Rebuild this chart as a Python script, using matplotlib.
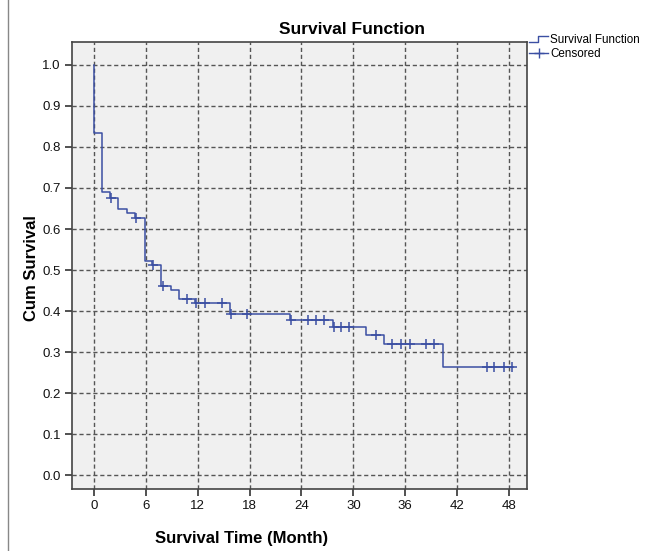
import numpy as np
import matplotlib
matplotlib.use("Agg")
import matplotlib.pyplot as plt
from matplotlib.lines import Line2D
from matplotlib.legend_handler import HandlerBase

plt.rcParams['font.family'] = ['Liberation Sans', 'DejaVu Sans']

# step times (months) and cumulative survival right after each step
step_time = [0.0, 0.05, 0.95, 1.85, 2.8, 3.8, 4.75, 5.85, 6.7, 7.8, 8.9, 9.8,
             11.7, 15.7, 22.7, 27.6, 31.5, 33.6, 40.4]
step_surv = [1.0, 0.835, 0.690, 0.675, 0.648, 0.638, 0.628, 0.522, 0.512, 0.461,
             0.451, 0.429, 0.420, 0.393, 0.378, 0.360, 0.341, 0.319, 0.264]
end_time = 48.5

# censored observations
cens_time = [2.0, 4.9, 6.85, 8.0, 10.8, 11.8, 12.8, 14.8, 15.8, 17.7, 22.8, 24.7,
             25.7, 26.6, 27.8, 28.6, 29.5, 32.6, 34.5, 35.5, 36.5, 38.4, 39.3,
             45.4, 46.3, 47.4, 48.4]
cens_surv = [0.675, 0.628, 0.512, 0.461, 0.429, 0.420, 0.420, 0.420, 0.393, 0.393,
             0.378, 0.378, 0.378, 0.378, 0.360, 0.360, 0.360, 0.341, 0.319, 0.319,
             0.319, 0.319, 0.319, 0.264, 0.264, 0.264, 0.264]

x_ticks = [0, 6, 12, 18, 24, 30, 36, 42, 48]
y_ticks = [0.0, 0.1, 0.2, 0.3, 0.4, 0.5, 0.6, 0.7, 0.8, 0.9, 1.0]

LINE_C = '#3b4fa3'
GRID_C = '#555555'


class StepHandler(HandlerBase):
    """legend icon shaped like a small step"""
    def create_artists(self, legend, orig, xd, yd, w, h, fontsize, trans):
        xs = [xd, xd + w * 0.45, xd + w * 0.45, xd + w]
        ys = [yd + h * 0.1, yd + h * 0.1, yd + h * 0.85, yd + h * 0.85]
        ln = Line2D(xs, ys, color=LINE_C, lw=1.0, transform=trans)
        return [ln]


fig = plt.figure(figsize=(6.45, 5.51), dpi=100)
ax = fig.add_axes([72 / 645, 1 - 489 / 551, 455 / 645, 447 / 551])
ax.set_facecolor('#f0f0f0')

xs = list(step_time) + [end_time]
ys = list(step_surv) + [step_surv[-1]]
ax.step(xs, ys, where='post', color=LINE_C, lw=1.1, zorder=3)
ax.plot(cens_time, cens_surv, ls='none', marker='+', ms=7.5, mew=1.1,
        color=LINE_C, zorder=4)

ax.set_xlim(-2.54, 50.08)
ax.set_ylim(-0.034, 1.056)
ax.set_xticks(x_ticks)
ax.set_yticks(y_ticks)
ax.set_yticklabels([f'{v:.1f}' for v in y_ticks])
ax.tick_params(direction='out', length=5, width=1.2, color='#333333',
               labelsize=9.5, pad=3, labelcolor='#111111')

ax.grid(True, color=GRID_C, ls=(0, (3, 2)), lw=1.0)
ax.set_axisbelow(True)
for sp in ax.spines.values():
    sp.set_color('#444444')
    sp.set_linewidth(1.2)

fig.text(352 / 645, 1 - 30 / 551, 'Survival Function', ha='center', va='center',
         fontsize=12.5, fontweight='bold')
fig.text(242 / 645, 1 - 538 / 551, 'Survival Time (Month)', ha='center', va='center',
         fontsize=12, fontweight='bold')
fig.text(32 / 645, 1 - 268 / 551, 'Cum Survival', ha='center', va='center',
         rotation=90, fontsize=12, fontweight='bold')

h1 = Line2D([], [], color=LINE_C)
h2 = Line2D([], [], color=LINE_C, marker='+', ms=7, ls='-', lw=1.0)
fig.legend([h1, h2], ['Survival Function', 'Censored'],
           handler_map={h1: StepHandler()},
           loc='upper left', bbox_to_anchor=(528 / 645, 1 - 33 / 551),
           frameon=False, fontsize=8.4, handlelength=1.6, handletextpad=0.2,
           labelspacing=0.15, borderaxespad=0, borderpad=0.1)

# thin frame along the left side of the image
fig.add_artist(Line2D([8 / 645, 8 / 645], [0, 1], transform=fig.transFigure,
                      color='#888888', lw=1.0))

fig.savefig('out.png', dpi=100)
